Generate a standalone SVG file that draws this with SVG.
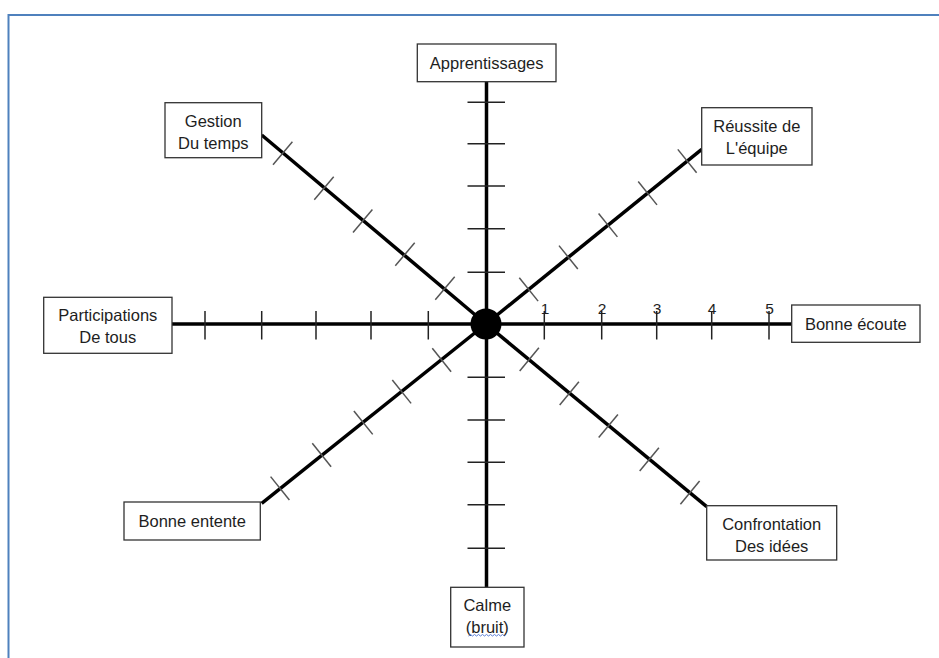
<svg xmlns="http://www.w3.org/2000/svg" width="939" height="658" viewBox="0 0 939 658">
<style>
.frame{fill:none;stroke:#4f81bd;stroke-width:2}
.axis{stroke:#000;stroke-width:3.5;fill:none;stroke-linecap:butt}
.tick{stroke:#222;stroke-width:1.5}
.dtick{stroke:#555;stroke-width:1.5}
.box{fill:#fff;stroke:#333;stroke-width:1.3}
.lbl{font-family:"Liberation Sans",Arial,sans-serif;font-size:16.5px;fill:#1e1e1e;text-anchor:middle}
.num{font-family:"Liberation Sans",Arial,sans-serif;font-size:15.5px;fill:#1e1e1e;text-anchor:middle}
</style>
<rect width="939" height="658" fill="#fff"/>
<rect class="frame" x="8.5" y="15" width="1000" height="1000"/>
<g id="connectors">
  <line class="axis" x1="486.5" y1="81.7" x2="486.5" y2="587"/>
  <line class="axis" x1="172" y1="324" x2="791.7" y2="324"/>
  <line class="axis" x1="486" y1="324" x2="701.7" y2="149.3"/>
  <line class="axis" x1="486" y1="324" x2="261.7" y2="135"/>
  <line class="axis" x1="486" y1="324" x2="261.7" y2="503.3"/>
  <line class="axis" x1="486" y1="324" x2="706.7" y2="506.7"/>
  <g id="ticks-vertical">
    <line class="tick" x1="467.5" y1="102.3" x2="505" y2="102.3"/>
    <line class="tick" x1="467.5" y1="143.7" x2="505" y2="143.7"/>
    <line class="tick" x1="467.5" y1="186" x2="505" y2="186"/>
    <line class="tick" x1="467.5" y1="228.7" x2="505" y2="228.7"/>
    <line class="tick" x1="467.5" y1="272.3" x2="505" y2="272.3"/>
    <line class="tick" x1="467.5" y1="377.3" x2="505" y2="377.3"/>
    <line class="tick" x1="467.5" y1="420" x2="505" y2="420"/>
    <line class="tick" x1="467.5" y1="462.3" x2="505" y2="462.3"/>
    <line class="tick" x1="467.5" y1="504.7" x2="505" y2="504.7"/>
    <line class="tick" x1="467.5" y1="548.3" x2="505" y2="548.3"/>
  </g>
  <g id="ticks-horizontal">
    <line class="tick" x1="205" y1="311" x2="205" y2="339.5"/>
    <line class="tick" x1="261.7" y1="311" x2="261.7" y2="339.5"/>
    <line class="tick" x1="316" y1="311" x2="316" y2="339.5"/>
    <line class="tick" x1="371" y1="311" x2="371" y2="339.5"/>
    <line class="tick" x1="428.3" y1="311" x2="428.3" y2="339.5"/>
    <line class="tick" x1="544.3" y1="311" x2="544.3" y2="339.5"/>
    <line class="tick" x1="601.7" y1="311" x2="601.7" y2="339.5"/>
    <line class="tick" x1="656.7" y1="311" x2="656.7" y2="339.5"/>
    <line class="tick" x1="711.7" y1="311" x2="711.7" y2="339.5"/>
    <line class="tick" x1="769" y1="311" x2="769" y2="339.5"/>
  </g>
  <g id="ticks-diagonal">
    <line class="dtick" x1="519.3" y1="277.7" x2="538.1" y2="301.1"/>
    <line class="dtick" x1="559" y1="245.6" x2="577.8" y2="269"/>
    <line class="dtick" x1="598.6" y1="213.5" x2="617.4" y2="236.9"/>
    <line class="dtick" x1="638.2" y1="181.5" x2="657" y2="204.9"/>
    <line class="dtick" x1="677.8" y1="149.4" x2="696.6" y2="172.8"/>

    <line class="dtick" x1="435.3" y1="299.8" x2="454.7" y2="276.8"/>
    <line class="dtick" x1="395.3" y1="265.8" x2="414.7" y2="242.8"/>
    <line class="dtick" x1="353" y1="232.5" x2="372.4" y2="209.5"/>
    <line class="dtick" x1="314.3" y1="199.8" x2="333.7" y2="176.8"/>
    <line class="dtick" x1="273" y1="164.8" x2="292.4" y2="141.8"/>

    <line class="dtick" x1="432.3" y1="348.3" x2="451.1" y2="371.7"/>
    <line class="dtick" x1="392.3" y1="380" x2="411.1" y2="403.4"/>
    <line class="dtick" x1="353.9" y1="411" x2="372.7" y2="434.4"/>
    <line class="dtick" x1="312.3" y1="443.3" x2="331.1" y2="466.7"/>
    <line class="dtick" x1="270.6" y1="476.6" x2="289.4" y2="500"/>

    <line class="dtick" x1="519.7" y1="370.9" x2="538.9" y2="347.7"/>
    <line class="dtick" x1="559.7" y1="404.9" x2="578.9" y2="381.7"/>
    <line class="dtick" x1="598.7" y1="437.6" x2="617.9" y2="414.4"/>
    <line class="dtick" x1="639.7" y1="470.9" x2="658.9" y2="447.7"/>
    <line class="dtick" x1="680.4" y1="504.3" x2="699.6" y2="481.1"/>
  </g>
  <g id="scale-numbers">
    <text class="num" x="545" y="314">1</text>
    <text class="num" x="602" y="314">2</text>
    <text class="num" x="657" y="314">3</text>
    <text class="num" x="712" y="314">4</text>
    <text class="num" x="769.5" y="314">5</text>
  </g>
</g>
<g id="center">
  <circle cx="486" cy="324" r="15.5" fill="#000"/>
</g>
<g id="node-apprentissages">
  <rect class="box" x="417.3" y="44" width="138.7" height="37.7"/>
  <text class="lbl" x="486.7" y="69">Apprentissages</text>
</g>
<g id="node-reussite">
  <rect class="box" x="701.7" y="107.7" width="110.3" height="57.3"/>
  <text class="lbl" x="756.8" y="132">Réussite de</text>
  <text class="lbl" x="756.8" y="154">L'équipe</text>
</g>
<g id="node-bonne-ecoute">
  <rect class="box" x="791.7" y="305" width="128.3" height="37.3"/>
  <text class="lbl" x="855.8" y="329.5">Bonne écoute</text>
</g>
<g id="node-confrontation">
  <rect class="box" x="706.7" y="505.7" width="130" height="54.3"/>
  <text class="lbl" x="771.7" y="530">Confrontation</text>
  <text class="lbl" x="771.7" y="552">Des idées</text>
</g>
<g id="node-calme">
  <rect class="box" x="450.7" y="587.3" width="73.3" height="59.7"/>
  <text class="lbl" x="487.3" y="611">Calme</text>
  <text class="lbl" x="487.3" y="633">(bruit)</text>
  <path d="M468.5 636 l2 -1.5 l2 1.5 l2 -1.5 l2 1.5 l2 -1.5 l2 1.5 l2 -1.5 l2 1.5 l2 -1.5 l2 1.5 l2 -1.5 l2 1.5 l2 -1.5 l2 1.5 l2 -1.5 l2 1.5 l2 -1.5 l2 1.5" fill="none" stroke="#5b7fd6" stroke-width="1"/>
</g>
<g id="node-bonne-entente">
  <rect class="box" x="124" y="502" width="136.3" height="38"/>
  <text class="lbl" x="192.2" y="527">Bonne entente</text>
</g>
<g id="node-participations">
  <rect class="box" x="43.7" y="297.3" width="128.3" height="56"/>
  <text class="lbl" x="107.8" y="321">Participations</text>
  <text class="lbl" x="107.8" y="343">De tous</text>
</g>
<g id="node-gestion">
  <rect class="box" x="165" y="102.7" width="96.7" height="55"/>
  <text class="lbl" x="213.3" y="126.5">Gestion</text>
  <text class="lbl" x="213.3" y="148.5">Du temps</text>
</g>
</svg>
